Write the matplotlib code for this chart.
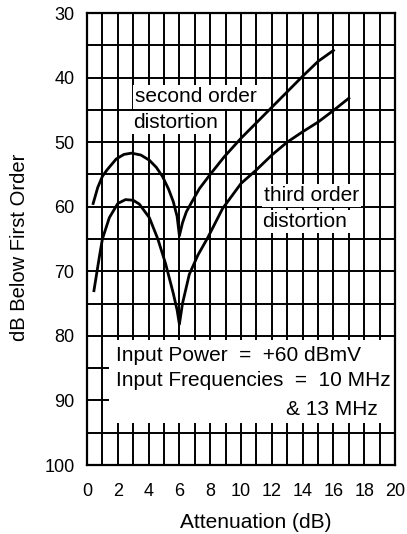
import matplotlib
matplotlib.use("Agg")
import matplotlib.pyplot as plt
from matplotlib.patches import Rectangle

plt.rcParams['font.family'] = ['Liberation Sans', 'DejaVu Sans']

# values (attenuation dB, dB below first order)
second_x = [0.4, 0.7, 1.0, 1.3, 1.9, 2.4, 2.9, 3.5, 4.05, 4.5, 4.9, 5.3, 5.6, 5.85, 6.0,
            6.2, 6.45, 6.75, 7.3, 8.0, 8.9, 10.0, 11.0, 12.0, 13.0, 14.0, 15.0, 16.0]
second_y = [59.5, 57.0, 55.3, 54.3, 52.6, 51.9, 51.7, 52.0, 52.8, 53.9, 55.3, 57.3, 59.2, 61.5, 64.5,
            62.5, 60.8, 59.5, 57.2, 55.0, 52.3, 49.4, 47.0, 44.6, 42.2, 39.8, 37.5, 35.8]

third_x = [0.45, 0.8, 1.0, 1.45, 2.0, 2.5, 3.0, 3.4, 4.05, 4.6, 5.1, 5.6, 5.85, 6.0,
           6.2, 6.64, 7.2, 7.84, 8.8, 10.0, 11.0, 12.0, 13.0, 14.0, 15.0, 16.0, 17.0]
third_y = [73.0, 67.8, 65.0, 61.7, 59.5, 58.9, 59.0, 59.6, 61.7, 65.0, 68.8, 73.4, 76.0, 78.2,
           75.0, 70.5, 67.5, 64.8, 60.3, 56.4, 54.3, 52.0, 50.0, 48.4, 46.9, 45.1, 43.2]

x_labels = [0, 2, 4, 6, 8, 10, 12, 14, 16, 18, 20]
y_labels = [30, 40, 50, 60, 70, 80, 90, 100]

fig = plt.figure(figsize=(4.07, 5.34), dpi=100)
ax = fig.add_axes([87 / 407, 1 - 465 / 534, 308 / 407, 452 / 534])

ax.set_xlim(0, 20)
ax.set_ylim(100, 30)
ax.set_xticks(x_labels)
ax.set_xticks([v for v in range(21) if v % 2], minor=True)
ax.set_yticks(y_labels)
ax.set_yticks([v + 5 for v in y_labels[:-1]], minor=True)
ax.tick_params(which='both', length=0)
ax.tick_params(axis='x', pad=13, labelsize=13)
ax.tick_params(axis='y', pad=9, labelsize=13)
ax.set_axisbelow(True)
ax.grid(which='both', color='black', linewidth=1.4)
for s in ax.spines.values():
    s.set_linewidth(1.6)

ax.plot(second_x, second_y, color='black', linewidth=2.0, zorder=4)
ax.plot(third_x, third_y, color='black', linewidth=2.0, zorder=4)

fs = 15
box = dict(facecolor='white', edgecolor='none', pad=1.5)
ax.text(3.1, 43.0, 'second order', fontsize=fs, va='center', bbox=box, zorder=3)
ax.text(3.0, 47.0, 'distortion', fontsize=fs, va='center', bbox=box, zorder=3)
ax.text(11.5, 58.3, 'third order', fontsize=fs, va='center', bbox=box, zorder=3)
ax.text(11.4, 62.3, 'distortion', fontsize=fs, va='center', bbox=box, zorder=3)

ax.add_patch(Rectangle((1.4, 80.6), 18.6, 12.9, facecolor='white', edgecolor='none', zorder=1))
ax.text(1.9, 83.1, 'Input Power  =  +60 dBmV', fontsize=fs, va='center', zorder=3)
ax.text(1.9, 86.9, 'Input Frequencies  =  10 MHz', fontsize=fs, va='center', zorder=3)
ax.text(12.9, 91.4, '& 13 MHz', fontsize=fs, va='center', zorder=3)

fig.text(20 / 407, 1 - 247 / 534, 'dB Below First Order', rotation=90,
         ha='center', va='center', fontsize=14.5)
fig.text(256 / 407, 1 - 522 / 534, 'Attenuation (dB)', ha='center', va='center', fontsize=15)

fig.savefig('out.png', dpi=100)
